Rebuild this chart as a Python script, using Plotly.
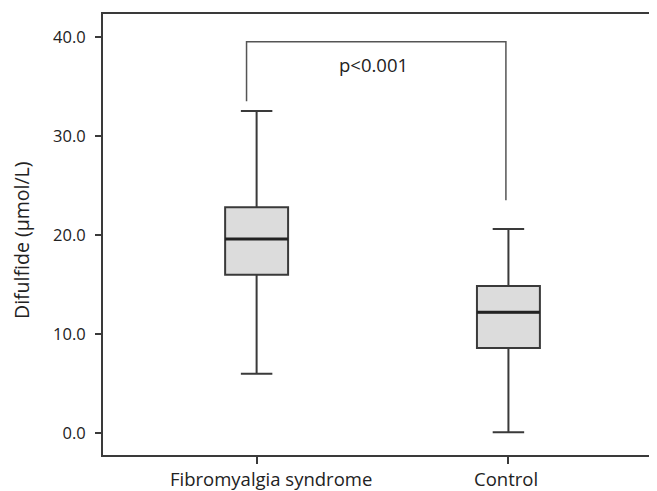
import plotly.graph_objects as go

categories = ["Fibromyalgia syndrome", "Control"]
lower_whisker = [6.0, 0.1]
q1 = [16.0, 8.6]
median = [19.6, 12.2]
q3 = [22.8, 14.85]
upper_whisker = [32.5, 20.6]

y_ticks = [0, 10, 20, 30, 40]
y_tick_labels = ["0.0", "10.0", "20.0", "30.0", "40.0"]

bracket_y = 39.5
bracket_left_foot = 33.5
bracket_right_foot = 23.5
p_text = "p<0.001"

FONT = "Open Sans, Noto Sans, sans-serif"
DARK = "#3a3a3a"
box_w = 0.25
OFF = 8  # default page body margin
label_shift = [14, -2]

fig = go.Figure()
fig.add_trace(go.Box(
    x=[0, 1],
    q1=q1, median=median, q3=q3,
    lowerfence=lower_whisker, upperfence=upper_whisker,
    width=box_w, whiskerwidth=0.5,
    fillcolor="#dcdcdc",
    line=dict(color=DARK, width=2),
    boxpoints=False, showlegend=False, hoverinfo="skip",
))
for i, m in enumerate(median):
    fig.add_trace(go.Scatter(
        x=[i - box_w / 2, i + box_w / 2], y=[m, m], mode="lines",
        line=dict(color="#222222", width=3), showlegend=False, hoverinfo="skip",
    ))

fig.add_trace(go.Scatter(
    x=[-0.04, -0.04, 0.99, 0.99],
    y=[bracket_left_foot, bracket_y, bracket_y, bracket_right_foot],
    mode="lines", line=dict(color="#555555", width=1.5),
    showlegend=False, hoverinfo="skip",
))
fig.add_annotation(x=0.465, y=37.2, text=p_text, showarrow=False,
                   font=dict(family=FONT, size=18.5, color="#222222"))

for i, cat in enumerate(categories):
    fig.add_annotation(x=i, yref="paper", y=0, text=cat, showarrow=False,
                       xanchor="center", yanchor="top", yshift=-9,
                       xshift=label_shift[i],
                       font=dict(family=FONT, size=18.5, color="#222222"))

fig.add_annotation(xref="paper", yref="paper", x=-0.148, y=0.4875,
                   xanchor="center", yanchor="middle",
                   text="Difulfide (μmol/L)", textangle=-90, showarrow=False,
                   font=dict(family=FONT, size=19.5, color="#222222"))

fig.update_layout(
    width=657 - OFF, height=491 - OFF,
    margin=dict(l=103 - OFF, r=0, t=14 - OFF, b=36, pad=0),
    plot_bgcolor="white", paper_bgcolor="white",
    font=dict(family=FONT, size=17, color="#222222"),
    xaxis=dict(
        range=[-0.61, 1.59], tickvals=[0, 1], ticktext=["", ""],
        showgrid=False, zeroline=False, showline=True, linecolor=DARK,
        linewidth=2, mirror=True, ticks="outside", ticklen=7, tickcolor=DARK,
        tickwidth=2,
    ),
    yaxis=dict(
        range=[-2.2, 42.3], tickvals=y_ticks, ticktext=y_tick_labels,
        showgrid=False, zeroline=False, showline=True, linecolor=DARK,
        linewidth=2, ticks="outside", ticklen=6, tickcolor=DARK, tickwidth=1.5,
        tickfont=dict(size=16.5), ticklabelstandoff=6,
    ),
)

fig.write_html("out.html")
